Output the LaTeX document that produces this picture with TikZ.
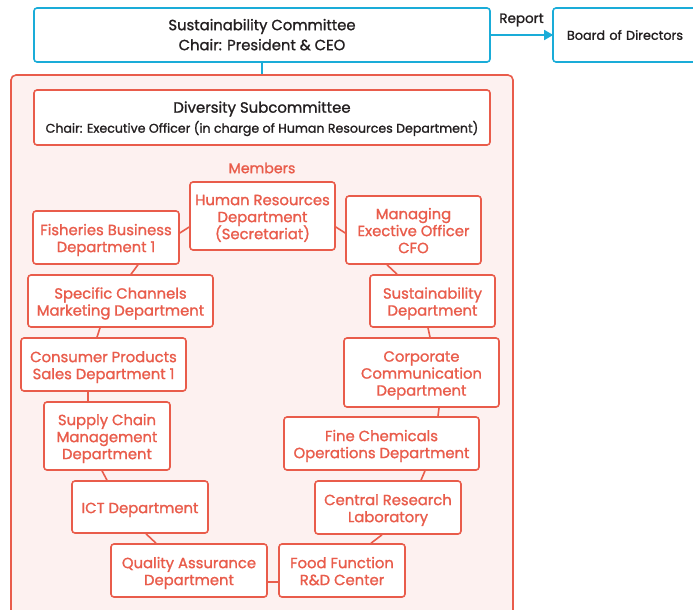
\documentclass[tikz,border=0pt]{standalone}
\usepackage{fontspec}
\setmainfont{Poppins}[FakeBold=1.2]
\usetikzlibrary{arrows.meta}
\definecolor{cyanb}{HTML}{1AACD8}
\definecolor{salmon}{HTML}{E95C4B}
\definecolor{pinkbg}{HTML}{FDF1F0}
\definecolor{ink}{HTML}{231F20}
\newcommand\mln[1]{\rule[-2.35pt]{0pt}{17pt}\smash{#1}}
\newcommand\bln[1]{\rule[-4.8pt]{0pt}{20pt}\smash{#1}}
\begin{document}
\begin{tikzpicture}[x=1pt,y=-1pt,
  cbox/.style={draw=cyanb, line width=1.6pt, rounded corners=3pt, fill=white, text=ink, align=center, inner sep=0pt, font=\fontsize{14.8}{20}\selectfont},
  mbox/.style={draw=salmon, line width=1.6pt, rounded corners=3pt, fill=white, text=salmon, align=center, inner sep=0pt, font=\fontsize{14.8}{17}\selectfont},
  link/.style={draw=salmon, line width=1.6pt},
  clink/.style={draw=cyanb, line width=1.6pt}]
\useasboundingbox (0,0) rectangle (693,610);
% top
\node[cbox, minimum width=456pt, minimum height=54pt] (sc) at (262,35) {\bln{Sustainability Committee}\\\bln{Chair: President \& CEO}};
\node[cbox, minimum width=157pt, minimum height=54pt, text width=129pt, inner xsep=14pt, align=left, font=\fontsize{12.8}{16}\selectfont] (bod) at (631.5,35) {Board of Directors};
\draw[clink, -{Triangle[length=9pt,width=10pt]}, shorten >=-1pt] (sc.east) -- (bod.west) node[midway, yshift=15pt, text=ink, font=\fontsize{13.5}{16}\selectfont] (rep) {Report};
% outer
\node[draw=salmon, line width=1.6pt, fill=pinkbg, rounded corners=5pt, minimum width=502pt, minimum height=545pt, inner sep=0pt] (outer) at (262,347.5) {};
\draw[clink] (sc.south) -- (outer.north);
\node[draw=salmon, line width=1.6pt, fill=white, rounded corners=3pt, minimum width=456pt, minimum height=55pt, inner sep=0pt, text=ink, align=center, font=\fontsize{14.9}{20}\selectfont] (div) at (262,117.5)
  {\bln{Diversity Subcommittee}\\\bln{\fontsize{12.6}{20}\selectfont Chair: Executive Officer (in charge of Human Resources Department)}};
\node[text=salmon, font=\fontsize{14.2}{17}\selectfont] (mem) at (262,168) {Members};
% members
\node[mbox, minimum width=145pt, minimum height=68pt] (hr) at (262.5,216) {\mln{Human Resources}\\\mln{Department}\\\mln{(Secretariat)}};
\node[mbox, minimum width=146pt, minimum height=53pt] (fish) at (106,237.5) {\mln{Fisheries Business}\\\mln{Department 1}};
\node[mbox, minimum width=135pt, minimum height=68pt] (mgr) at (413.5,230) {\mln{Managing}\\\mln{Exective Officer}\\\mln{CFO}};
\node[mbox, minimum width=185pt, minimum height=52pt] (spec) at (120.5,301) {\mln{Specific Channels}\\\mln{Marketing Department}};
\node[mbox, minimum width=125pt, minimum height=52pt] (sus) at (432.5,301) {\mln{Sustainability}\\\mln{Department}};
\node[mbox, minimum width=165pt, minimum height=53pt] (cons) at (103.5,364.5) {\mln{Consumer Products}\\\mln{Sales Department 1}};
\node[mbox, minimum width=155pt, minimum height=69pt] (corp) at (421.5,372.5) {\mln{Corporate}\\\mln{Communication}\\\mln{Department}};
\node[mbox, minimum width=126pt, minimum height=68pt] (sup) at (107,436) {\mln{Supply Chain}\\\mln{Management}\\\mln{Department}};
\node[mbox, minimum width=195pt, minimum height=53pt] (fine) at (381.5,443.5) {\mln{Fine Chemicals}\\\mln{Operations Department}};
\node[mbox, minimum width=136pt, minimum height=52pt] (ict) at (140,507) {\mln{ICT Department}};
\node[mbox, minimum width=146pt, minimum height=53pt] (cen) at (388,507.5) {\mln{Central Research}\\\mln{Laboratory}};
\node[mbox, minimum width=156pt, minimum height=53pt] (qa) at (189,570.5) {\mln{Quality Assurance}\\\mln{Department}};
\node[mbox, minimum width=126pt, minimum height=53pt] (food) at (342,570.5) {\mln{Food Function}\\\mln{R\&D Center}};
% links
\draw[link] ([yshift=4.5pt]fish.east) -- ([yshift=-11pt]hr.west);
\draw[link] ([yshift=-11pt]hr.east) -- ([yshift=-3pt]mgr.west);
\draw[link] ([xshift=32pt]fish.south) -- ([xshift=10.5pt]spec.north);
\draw[link] ([xshift=-26.5pt]mgr.south) -- ([xshift=-35.5pt]sus.north);
\draw[link] ([xshift=-20.5pt]spec.south) -- ([xshift=-6.5pt]cons.north);
\draw[link] ([xshift=-4.5pt]sus.south) -- ([xshift=8.5pt]corp.north);
\draw[link] ([xshift=-15.5pt]cons.south) -- ([xshift=-19pt]sup.north);
\draw[link] ([xshift=17.5pt]corp.south) -- ([xshift=56.5pt]fine.north);
\draw[link] ([xshift=-5pt]sup.south) -- ([xshift=-33pt]ict.north);
\draw[link] ([xshift=43.5pt]fine.south) -- ([xshift=33pt]cen.north);
\draw[link] ([xshift=6pt]ict.south) -- ([xshift=-33pt]qa.north);
\draw[link] ([xshift=-6pt]cen.south) -- ([xshift=29pt]food.north);
\draw[link] ([yshift=-11.5pt]qa.east) -- ([yshift=-11.5pt]food.west);
\end{tikzpicture}
\end{document}
